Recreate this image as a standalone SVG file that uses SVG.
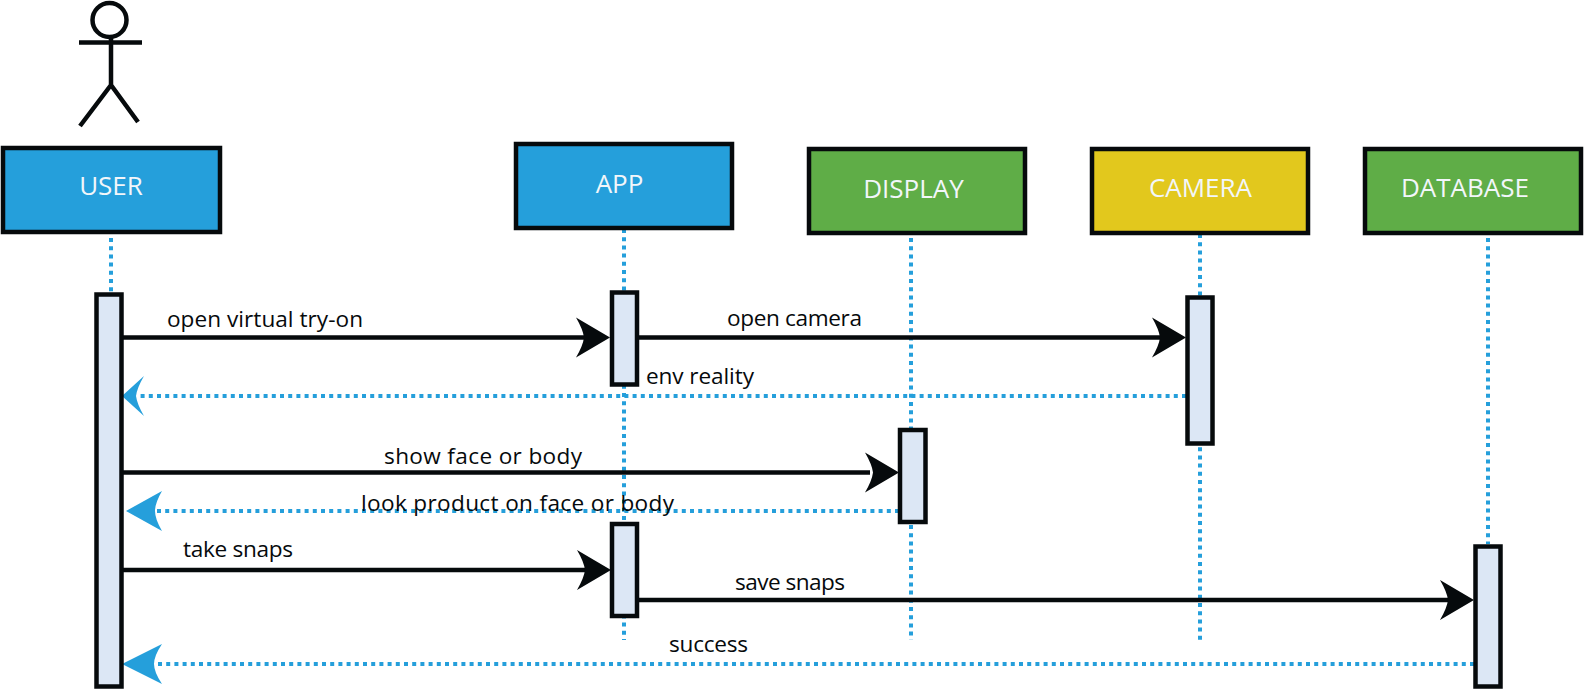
<svg xmlns="http://www.w3.org/2000/svg" width="1584" height="689" viewBox="0 0 1584 689">
<style>
text{font-family:"Open Sans","Noto Sans","Liberation Sans",sans-serif}
.box{stroke:#060a0c;stroke-width:4.500}
.blue{fill:#259fdb}.green{fill:#5fad47}.yellow{fill:#e2c81d}
.name{fill:#f2f6fa;font-size:26px;text-anchor:middle}
.act{fill:#dce7f5;stroke:#060a0c;stroke-width:4.500}
.lab{fill:#060a0c;font-size:22.600px}
.life{stroke:#259fdb;stroke-width:4;stroke-dasharray:4 4.200;fill:none}
.msg{stroke:#060a0c;stroke-width:4.300;fill:none}
.ret{stroke:#259fdb;stroke-width:4;stroke-dasharray:4 4.200;fill:none}
.hb{fill:#060a0c}.hr{fill:#259fdb}
</style>
<defs>
<path id="hd" d="M0 0L-34 -20Q-27 -8 -26 0Q-27 8 -34 20Z"/>
<path id="hl" d="M0 0L22 -20Q15 -8 14 0Q15 8 22 20Z"/>
<path id="hl2" d="M0 0L36 -20Q29 -8 29 0Q29 8 36 20Z"/>
<path id="hl3" d="M0 0L40 -20Q32 -8 32 0Q32 8 40 20Z"/>
</defs>
<g id="connectors">
<path class="life" d="M111 238V294"/>
<path class="life" d="M624 229V640"/>
<path class="life" d="M911 238V640"/>
<path class="life" d="M1200 234V642"/>
<path class="life" d="M1488 238V544"/>
<path class="msg" d="M121 337.500H585"/>
<path class="msg" d="M637 337.500H1160"/>
<path class="msg" d="M121 472.500H870"/>
<path class="msg" d="M121 570H585"/>
<path class="msg" d="M637 600H1450"/>
<path class="ret" d="M1186 396H137"/>
<path class="ret" d="M899 511H155"/>
<path class="ret" d="M1474 664H150"/>
<use href="#hd" class="hb" x="610" y="337.500"/>
<use href="#hd" class="hb" x="1186" y="337.500"/>
<use href="#hd" class="hb" x="899" y="472.500"/>
<use href="#hd" class="hb" x="611" y="570"/>
<use href="#hd" class="hb" x="1474" y="600"/>
<use href="#hl" class="hr" x="122" y="396"/>
<use href="#hl2" class="hr" x="126" y="511"/>
<use href="#hl3" class="hr" x="122" y="664"/>
</g>
<g id="actor" fill="none" stroke="#060a0c" stroke-width="4.500">
<circle cx="109.500" cy="20" r="17"/>
<path d="M79 42.500H142M111 38V85M111 85L80 126M111 85L138 122"/>
</g>
<g id="user"><rect class="box blue" x="3" y="148" width="217" height="84"/><text class="name" x="111" y="195">USER</text></g>
<g id="app"><rect class="box blue" x="516" y="144" width="216" height="84"/><text class="name" x="619.500" y="193">APP</text></g>
<g id="display"><rect class="box green" x="809" y="149" width="216" height="84"/><text class="name" x="913.500" y="198">DISPLAY</text></g>
<g id="camera"><rect class="box yellow" x="1092" y="149" width="216" height="84"/><text class="name" x="1200.500" y="197">CAMERA</text></g>
<g id="database"><rect class="box green" x="1365" y="149" width="216" height="84"/><text class="name" x="1465" y="197">DATABASE</text></g>
<g id="act-user"><rect class="act" x="96.500" y="294.500" width="25" height="392"/></g>
<g id="act-app-1"><rect class="act" x="612" y="292.500" width="25" height="92"/></g>
<g id="act-camera"><rect class="act" x="1187.500" y="297.500" width="25" height="146"/></g>
<g id="act-display"><rect class="act" x="900" y="430" width="25.500" height="92"/></g>
<g id="act-app-2"><rect class="act" x="612" y="524" width="25" height="92"/></g>
<g id="act-database"><rect class="act" x="1475.500" y="546.500" width="25" height="140"/></g>
<g id="labels">
<text class="lab" x="167" y="327" textLength="196">open virtual try-on</text>
<text class="lab" x="727" y="326" textLength="135">open camera</text>
<text class="lab" x="646" y="384" textLength="108">env reality</text>
<text class="lab" x="384" y="464" textLength="198">show face or body</text>
<text class="lab" x="361" y="511" textLength="313">look product on face or body</text>
<text class="lab" x="183" y="557" textLength="110">take snaps</text>
<text class="lab" x="735" y="590" textLength="110">save snaps</text>
<text class="lab" x="669" y="652" textLength="79">success</text>
</g>
</svg>
